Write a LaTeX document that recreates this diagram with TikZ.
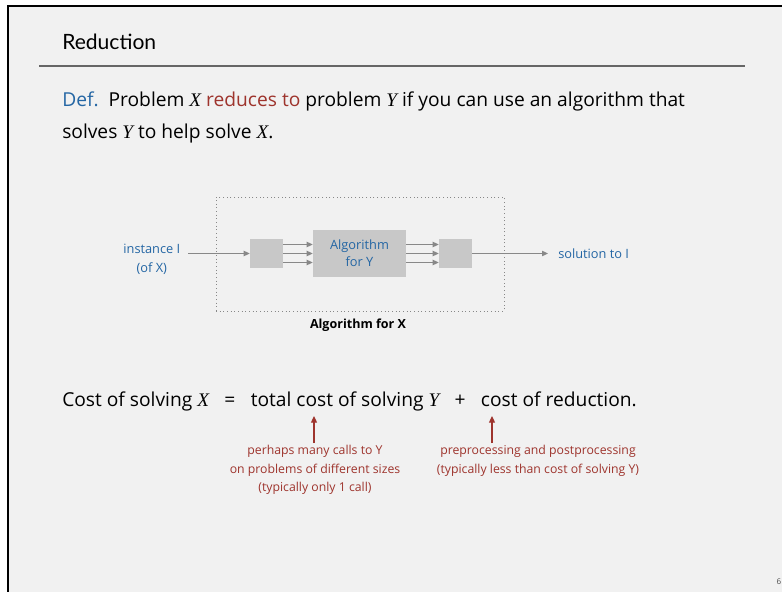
\documentclass[tikz,border=0pt]{standalone}
\usepackage{fontspec}
\setmainfont{Open Sans}
\newfontfamily\titlefont{Lato}
\newfontfamily\varfont{Liberation Serif}
\usetikzlibrary{arrows.meta,positioning}

\definecolor{slidebg}{RGB}{241,241,241}
\definecolor{defblue}{RGB}{36,102,164}
\definecolor{redtext}{RGB}{158,52,45}
\definecolor{boxgray}{RGB}{200,200,200}
\definecolor{flowgray}{RGB}{136,136,136}
\newcommand{\mvar}[1]{{\varfont\itshape #1}}
\newcommand{\opsp}{\hspace{0.8em}}

\begin{document}
\begin{tikzpicture}[x=0.75pt,y=-0.75pt,
        body/.style={font=\fontsize{14.4}{16}\selectfont, inner sep=0, anchor=base west},
        lbl/.style={font=\fontsize{9.6}{14.25}\selectfont, align=center},
        box/.style={rectangle, fill=boxgray, inner sep=0},
        flow/.style={draw=flowgray, line width=0.9pt, -{Triangle[length=4.5pt,width=4pt]}},
        note/.style={font=\fontsize{9.2}{14}\selectfont, text=redtext, align=center, inner sep=1.5pt},
        uparrow/.style={draw=redtext, line width=0.9pt, -{Triangle[length=5pt,width=4.5pt]}}]
        \useasboundingbox (0,0) rectangle (782,592);
        \fill[slidebg] (8,6) rectangle (782,592);
        \draw[line width=1.5pt] (8,592) -- (8,6) -- (782,6);

        \node (title) [font=\titlefont\fontsize{15.8}{18}\selectfont, inner sep=0, anchor=base west] at (62,50) {Reduction};
        \draw[black!60, line width=1.2pt] (39,66) -- (745,66);

        \node (def1) [body] at (62,107) {\textcolor{defblue}{Def.}\ \ Problem \mvar{X} \textcolor{redtext}{reduces to} problem \mvar{Y} if you can use an algorithm that};
        \node (def2) [body] at (62,138) {solves \mvar{Y} to help solve \mvar{X}.};

        \node (frame) [rectangle, draw=flowgray, dotted, line width=0.75pt, minimum width=216pt, minimum height=85.5pt] at (360,254) {};
        \node (pre) [box, minimum width=24.75pt, minimum height=21.75pt] at (266.5,253.5) {};
        \node (alg) [box, lbl, text=defblue, font=\fontsize{9.6}{12.75}\selectfont, minimum width=69.75pt, minimum height=35.25pt] at (359.5,253.5) {Algorithm\\for Y};
        \node (post) [box, minimum width=24.75pt, minimum height=21.75pt] at (455.5,253.5) {};
        \node (inst) [lbl, anchor=east, text=defblue, inner xsep=5.6pt] at (188,259.5) {instance I\\(of X)};
        \node (sol) [lbl, anchor=west, text=defblue, inner xsep=7.5pt] at (548,253.5) {solution to I};
        \node (algx) [font=\fontsize{9.4}{11}\selectfont\bfseries] at (358,325) {Algorithm for X};

        \draw[flow] (inst.east |- pre.west) -- (pre.west);
        \foreach \dy in {-6.75pt,0pt,6.75pt} {
            \draw[flow] ([yshift=\dy]pre.east) -- ([yshift=\dy]pre.east -| alg.west);
            \draw[flow] ([yshift=\dy]alg.east) -- ([yshift=\dy]alg.east -| post.west);
        }
        \draw[flow] (post.east) -- (sol.west);

        \node (cost) [body] at (62,406) {Cost of solving \mvar{X}\opsp=\opsp total cost of solving \mvar{Y}\opsp+\opsp cost of reduction.};

        \node (noteA) [note, anchor=north] at (315,443) {perhaps many calls to Y\\on problems of different sizes\\(typically only 1 call)};
        \node (noteB) [note, anchor=north] at (538,443) {preprocessing and postprocessing\\(typically less than cost of solving Y)};
        \coordinate (tipA) at (314,416);
        \coordinate (tipB) at (492,416);
        \draw[uparrow] (noteA.north -| tipA) -- (tipA);
        \draw[uparrow] (noteB.north -| tipB) -- (tipB);

        \node (pg) [font=\fontsize{6}{7}\selectfont, text=black!70] at (779,582) {6};
    \end{tikzpicture}
\end{document}
